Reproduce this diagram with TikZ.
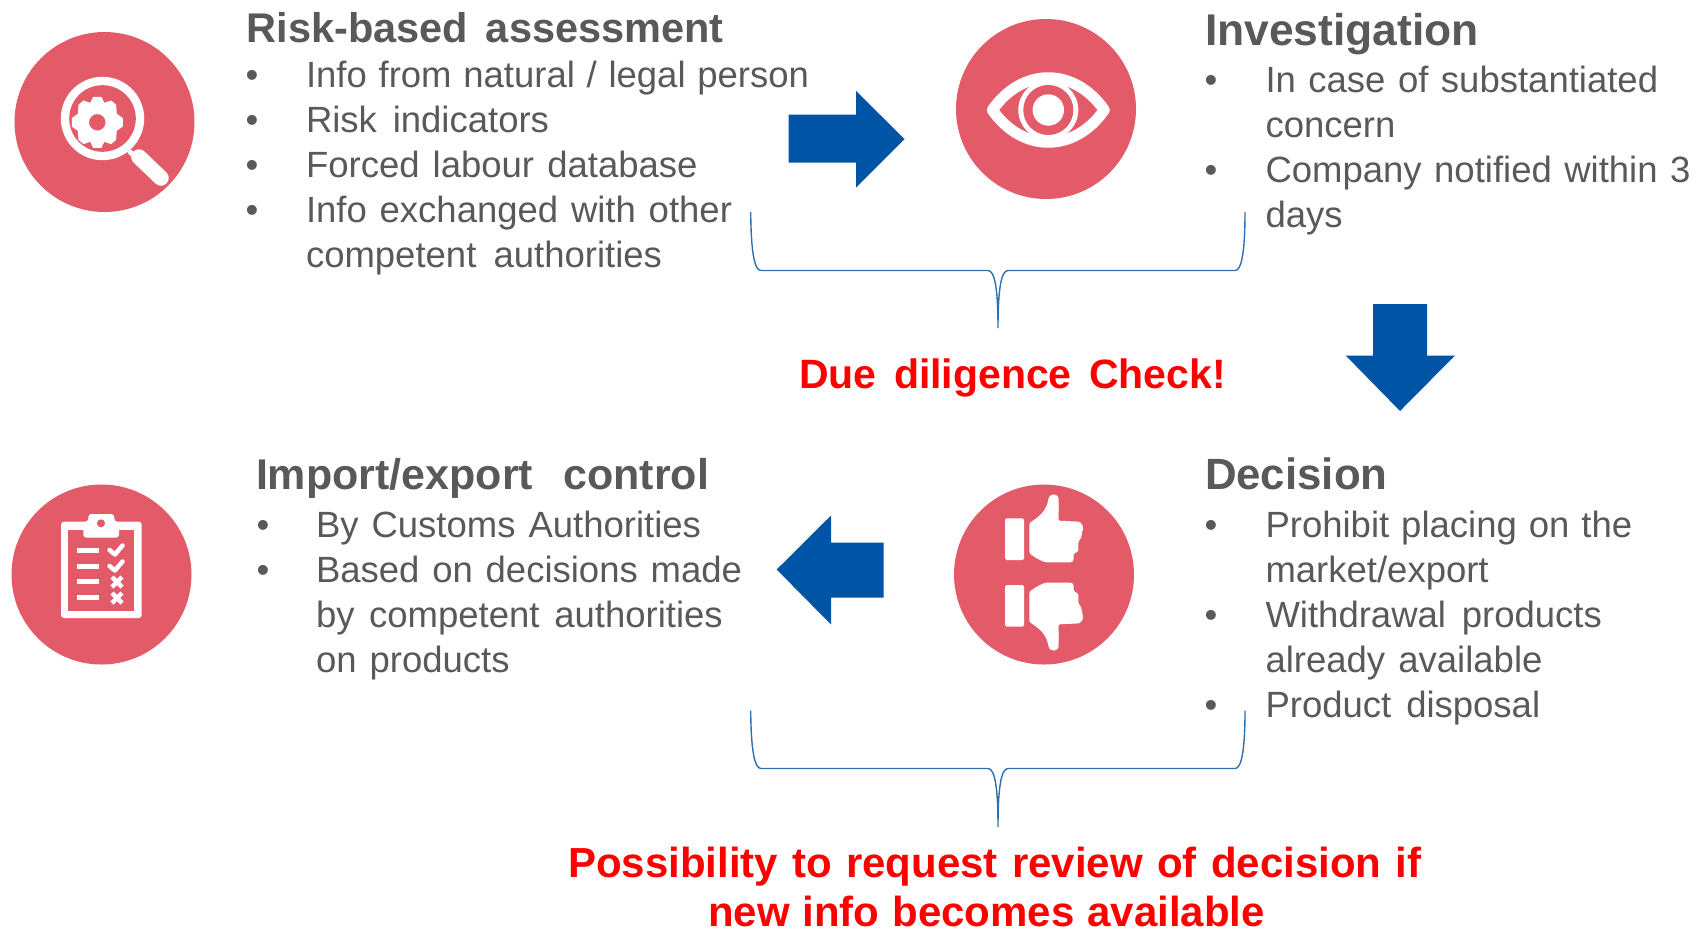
\documentclass[tikz,border=0pt]{standalone}
\usepackage{fontspec}
\setmainfont{Liberation Sans}
\definecolor{iconred}{HTML}{E35B69}
\definecolor{arrowblue}{HTML}{0054A6}
\definecolor{bracecol}{HTML}{2F6FAE}
\definecolor{textgrey}{HTML}{595959}
\definecolor{alertred}{HTML}{FF0000}
\hbadness=10000
\hfuzz=50pt
\tikzset{
  basetext/.style={anchor=base west,inner sep=0pt,outer sep=0pt},
  body/.style={basetext,text=textgrey,font=\fontsize{36.5}{45}\selectfont},
  headsized/.style={basetext,text=textgrey,font=\bfseries\fontsize{#1}{50}\selectfont},
  alertsized/.style={basetext,text=alertred,font=\bfseries\fontsize{#1}{50}\selectfont},
  bull/.style={anchor=base,inner sep=0pt,text=textgrey,font=\fontsize{36.5}{45}\selectfont},
  disc/.style={circle,fill=iconred,minimum size=180pt,inner sep=0pt},
  bigarrow/.style={fill=arrowblue},
  bracket/.style={draw=bracecol,line width=1.4pt},
  glyphline/.style={draw=white,line cap=round,line join=round},
}
\newcommand{\fitted}[6]{\node[#1] (#2) at (#3,#4) {\makebox[#5pt][s]{#6}};}
\newcommand{\handshape}{%
\fill[white,rounded corners=1.5pt]
  (298,160) -- (298,250) -- (320,265) -- (345,277) -- (425,277) -- (431,272) -- (431,250) -- (445,245)
  -- (445,215) -- (453,205) -- (460,170) -- (450,155) -- (385,152) -- (385,100) -- (340,130) -- cycle;
\fill[white] (298,160) .. controls (330,140) and (350,120) .. (355,88)
  .. controls (358,68) and (385,68) .. (386,88) -- (385,160) -- cycle;
}
\begin{document}
\begin{tikzpicture}[x=1pt,y=-1pt]
\useasboundingbox (0,0) rectangle (1696,930);

% discs
\node[disc] (d1) at (104.5,122) {};
\node[disc] (d2) at (1046,109) {};
\node[disc] (d3) at (101.5,574.5) {};
\node[disc] (d4) at (1044,574.5) {};

% magnifier icon
\fill[white] (102.5,118.5) circle (41.7);
\fill[iconred] (102.5,118.5) circle (33.3);
\draw[glyphline,line width=5pt] (130,152) -- (140,161);
\draw[glyphline,line width=15.5pt] (139,157) -- (161,178);
\begin{scope}[shift={(97.3,122.3)}]
\fill[white,even odd rule]
  (0,0) circle (8.3)
  (-4.2,-25.5) -- (4.2,-25.5) -- (7,-19.5) -- (13.8,-21.8) -- (18.8,-17.6) -- (19.5,-8.5)
  -- (25.5,-4.2) -- (25.5,4.2) -- (19.5,8.5) -- (18.8,17.6) -- (13.8,21.8) -- (7,19.5)
  -- (4.2,25.5) -- (-4.2,25.5) -- (-7,19.5) -- (-13.8,21.8) -- (-18.8,17.6) -- (-19.5,8.5)
  -- (-25.5,4.2) -- (-25.5,-4.2) -- (-19.5,-8.5) -- (-18.8,-17.6) -- (-13.8,-21.8) -- (-7,-19.5) -- cycle;
\end{scope}

% eye icon
\begin{scope}[shift={(1048.3,110)}]
\draw[white,fill=iconred,line width=11pt,line join=round]
  (-56,0) .. controls (-26,-43) and (26,-43) .. (56,0)
  .. controls (26,43) and (-26,43) .. (-56,0) -- cycle;
\fill[white] (0,0) circle (30);
\fill[iconred] (0,0) circle (25);
\fill[white] (0,0) circle (15.7);
\end{scope}

% clipboard icon
\fill[white,rounded corners=3pt] (61,521.7) rectangle (141.7,618);
\fill[iconred] (68.3,530) rectangle (134.3,611);
\fill[white,rounded corners=3pt] (83.3,537.7) -- (83.3,521.7) -- (88.3,521.7) -- (88.3,514) -- (114.3,514) -- (114.3,521.7) -- (119,521.7) -- (119,537.7) -- cycle;
\fill[iconred] (101,523.3) circle (4);
\foreach \yy in {550.7,566.3,581.7,597.3}{
  \fill[white] (76.7,\yy-2.5) rectangle (99,\yy+2.5);
}
\draw[glyphline,line width=4.5pt] (109.5,550) -- (115,554.5) -- (122.5,545.5);
\draw[glyphline,line width=4.5pt] (109.5,566) -- (115,570.5) -- (122.5,561.5);
\draw[glyphline,line width=4.5pt,line cap=butt] (112,577) -- (122,587) (122,577) -- (112,587);
\draw[glyphline,line width=4.5pt,line cap=butt] (112,593) -- (122,603) (122,593) -- (112,603);

% thumbs icon
\fill[white,rounded corners=1.5pt] (1005,518.3) rectangle (1024,560);
\fill[white,rounded corners=1.5pt] (1005,585) rectangle (1024,626.7);
\begin{scope}[shift={(930,470)},xscale=1/3,yscale=1/3]
\handshape
\end{scope}
\begin{scope}[shift={(930,675)},xscale=1/3,yscale=-1/3]
\handshape
\end{scope}

% block arrows
\fill[bigarrow] (788.5,114.5) -- (856,114.5) -- (856,91) -- (904.5,139) -- (856,187.5) -- (856,162.5) -- (788.5,162.5) -- cycle;
\fill[bigarrow] (1373,304) -- (1427,304) -- (1427,355.5) -- (1455,355.5) -- (1400,411) -- (1345.7,355.5) -- (1373,355.5) -- cycle;
\fill[bigarrow] (883.5,542.5) -- (831,542.5) -- (831,515.5) -- (776.7,569.5) -- (831,624.5) -- (831,597.5) -- (883.5,597.5) -- cycle;

% braces
\draw[bracket] (750.7,212) .. controls (751,255) and (755,270.5) .. (761,270.5) -- (988,270.5)
  .. controls (995,270.5) and (998,290) .. (998,328) .. controls (998,290) and (1001,270.5) .. (1008,270.5)
  -- (1235,270.5) .. controls (1241,270.5) and (1245,255) .. (1245,212);
\draw[bracket] (750.7,710.6) .. controls (751,753) and (755,768.5) .. (761,768.5) -- (988,768.5)
  .. controls (995,768.5) and (998,788) .. (998,827) .. controls (998,788) and (1001,768.5) .. (1008,768.5)
  -- (1235,768.5) .. controls (1241,768.5) and (1245,753) .. (1245,710.6);

% risk-based assessment
\fitted{headsized=41.5}{t1}{246.6}{42}{477}{Risk-based assessment}
\node[bull] (b1a) at (252,87.7) {•};
\node[bull] (b1b) at (252,132.7) {•};
\node[bull] (b1c) at (252,177.7) {•};
\node[bull] (b1d) at (252,222.7) {•};
\fitted{body}{l1a}{306}{87.7}{503}{Info from natural / legal person}
\fitted{body}{l1b}{306}{132.7}{243}{Risk indicators}
\fitted{body}{l1c}{306}{177.7}{391.5}{Forced labour database}
\fitted{body}{l1d}{306}{222.7}{426}{Info exchanged with other}
\fitted{body}{l1e}{306}{267.7}{356}{competent authorities}

% investigation
\node[headsized=44.4] (t2) at (1205,45) {Investigation};
\node[bull] (b2a) at (1211,92) {•};
\node[bull] (b2b) at (1211,182) {•};
\fitted{body}{l2a}{1265.5}{92}{392.6}{In case of substantiated}
\node[body] (l2b) at (1265.5,137) {concern};
\fitted{body}{l2c}{1265.5}{182}{425}{Company notified within 3}
\node[body] (l2d) at (1265.5,227) {days};

% due diligence
\fitted{alertsized=41}{r1}{799}{388}{427}{Due diligence Check!}

% import/export control
\fitted{headsized=43}{t3}{256}{489}{453}{Import/export control}
\node[bull] (b3a) at (263,537.6) {•};
\node[bull] (b3b) at (263,582.6) {•};
\fitted{body}{l3a}{316}{537.6}{385}{By Customs Authorities}
\fitted{body}{l3b}{316}{582.6}{426}{Based on decisions made}
\fitted{body}{l3c}{316}{627.6}{406.7}{by competent authorities}
\fitted{body}{l3d}{316}{672.6}{193.6}{on products}

% decision
\node[headsized=43.8] (t4) at (1205,489) {Decision};
\node[bull] (b4a) at (1211,537.6) {•};
\node[bull] (b4b) at (1211,627.6) {•};
\node[bull] (b4c) at (1211,717.6) {•};
\fitted{body}{l4a}{1265.5}{537.6}{366.7}{Prohibit placing on the}
\node[body] (l4b) at (1265.5,582.6) {market/export};
\fitted{body}{l4c}{1265.5}{627.6}{336.4}{Withdrawal products}
\fitted{body}{l4d}{1265.5}{672.6}{277}{already available}
\fitted{body}{l4e}{1265.5}{717.6}{274.7}{Product disposal}

% review
\fitted{alertsized=42}{r2}{568}{877}{853.4}{Possibility to request review of decision if}
\fitted{alertsized=42}{r3}{708}{926.5}{557}{new info becomes available}
\end{tikzpicture}
\end{document}
